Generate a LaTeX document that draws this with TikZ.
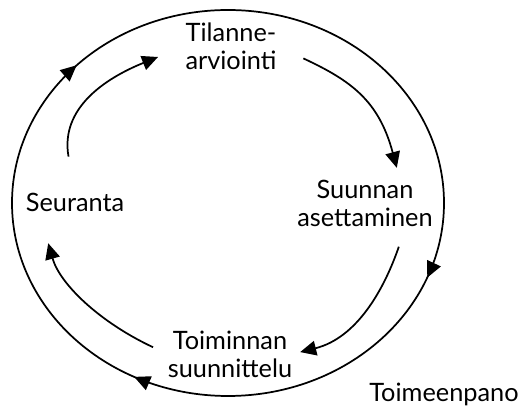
\documentclass[tikz,border=0pt]{standalone}
\usepackage{fontspec}
\setmainfont{Lato}
\usetikzlibrary{arrows.meta,decorations.markings}

\begin{document}
\begin{tikzpicture}[
      x=0.75pt, y=0.75pt,
      every node/.style={font=\fontsize{19}{21}\selectfont, inner sep=0pt, align=center},
      tip/.style={-{Triangle[length=12pt,width=11pt]}},
      flow/.style={line width=1.3pt, tip},
      ring/.style={line width=1.3pt, postaction={decorate},
                   decoration={markings,
                     mark=at position 0.310 with {\arrow{Triangle[length=12pt,width=11pt]}},
                     mark=at position 0.575 with {\arrow{Triangle[length=12pt,width=11pt]}},
                     mark=at position 0.872 with {\arrow{Triangle[length=12pt,width=11pt]}}}}
    ]
    \useasboundingbox (0,0) rectangle (525,410);
    % outer cycle
    \draw[ring] (228,400) arc[start angle=90, end angle=-270, x radius=216, y radius=193];
    % stages
    \node (tilanne) at (231,364) {Tilanne-\\arviointi};
    \node (suunnan) at (365,207) {Suunnan\\asettaminen};
    \node (toiminnan) at (230,56) {Toiminnan\\suunnittelu};
    \node[anchor=base] (seuranta) at (75,198) {Seuranta};
    % outer label
    \node[anchor=base] (toimeenpano) at (444,8) {Toimeenpano};
    % inner cycle
    \draw[flow, shorten <=28pt, shorten >=22pt] (seuranta.north) to[out=100, in=202, looseness=1.2] (tilanne.west);
    \draw[flow, shorten <=22pt, shorten >=9pt] (tilanne.east) to[out=-25, in=105, looseness=1.15] (suunnan.34);
    \draw[flow, shorten <=16pt, shorten >=6pt] (suunnan.-30) to[out=251, in=14] (toiminnan.east);
    \draw[flow, shorten <=12pt, shorten >=24pt] (toiminnan.west) to[out=155, in=-74] (seuranta.195);
  \end{tikzpicture}
\end{document}
